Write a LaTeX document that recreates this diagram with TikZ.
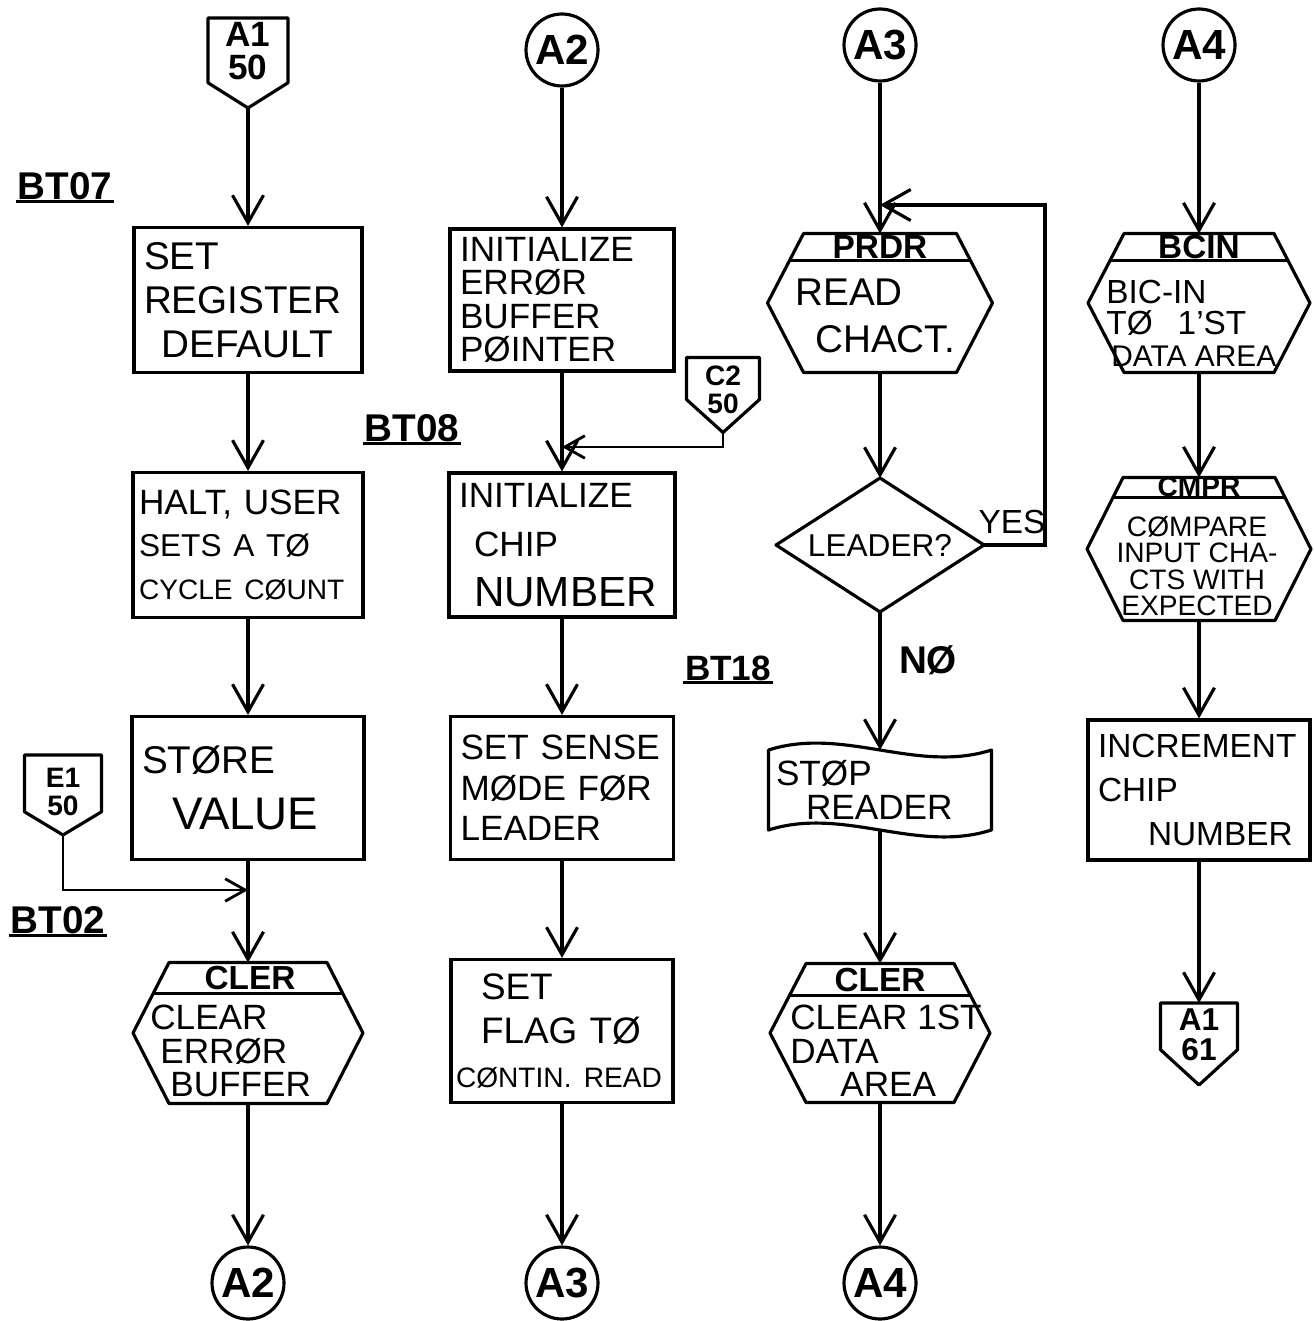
\documentclass[tikz,border=0pt]{standalone}
\usepackage{fontspec}
\setmainfont{Liberation Sans}
\usetikzlibrary{arrows.meta,calc}
\tikzset{
  outline/.style={line width=1.8pt, line join=round},
  ulbar/.style={line width=1.8pt},
  flow/.style={line width=1.8pt, -{Straight Barb[length=0.55cm,width=0.62cm]}},
  flowsmall/.style={line width=1.6pt, -{Straight Barb[length=0.4cm,width=0.45cm]}},
  procbox/.style={draw, line width=1.8pt, inner xsep=0.2cm, inner ysep=0pt, align=left, font=\fontsize{22}{25}\selectfont},
  ghost/.style={inner sep=0pt, outer sep=0pt},
  conn/.style={circle, draw, line width=1.8pt, minimum size=1.44cm, inner sep=0pt, font=\fontsize{24}{24}\selectfont\bfseries},
  hdr/.style={font=\fontsize{19}{19}\selectfont\bfseries, inner sep=0pt},
  bodytxt/.style={align=left, inner sep=0pt, anchor=west},
  lbl/.style={font=\fontsize{22}{22}\selectfont\bfseries, inner sep=1pt},
  offtxt/.style={align=center, inner sep=0pt, font=\fontsize{18}{17}\selectfont\bfseries},
}
\newcommand\myhexagon[2]{%
  \coordinate (#1-tl) at ($(#1.north west)+(36,0)$);
  \coordinate (#1-tr) at ($(#1.north east)+(-36,0)$);
  \coordinate (#1-bl) at ($(#1.south west)+(36,0)$);
  \coordinate (#1-br) at ($(#1.south east)+(-36,0)$);
  \draw[outline] (#1-tl) -- (#1-tr) -- (#1.east) -- (#1-br) -- (#1-bl) -- (#1.west) -- cycle;
  \draw[outline] ($(#1-tl)!#2!(#1.west)$) -- ($(#1-tr)!#2!(#1.east)$);
}
\newcommand\myoffpage[2]{%
  \draw[outline] (#1.north west) -- (#1.north east) -- ($(#1.north east)!#2!(#1.south east)$) -- (#1.south) -- ($(#1.north west)!#2!(#1.south west)$) -- cycle;
}
\newcommand\mytape[1]{%
  \draw[outline] (#1.north west) .. controls ($(#1.north west)+(75,-24)$) and ($(#1.north east)+(-75,24)$) .. (#1.north east) -- (#1.south east) .. controls ($(#1.south east)+(-75,24)$) and ($(#1.south west)+(75,-24)$) .. (#1.south west) -- cycle;
}
\begin{document}
\begin{tikzpicture}[x=0.02cm, y=-0.02cm]
\path[use as bounding box, fill=white] (0,0) rectangle (1314,1321);

% ---------------- column 1
\node[ghost, minimum width=1.6cm, minimum height=1.8cm] (o11) at (248,63) {};
\myoffpage{o11}{0.72}
\node[offtxt, font=\fontsize{20}{19}\selectfont\bfseries] (o11t) at (248,51) {A1\\50};

\node[lbl] (bt07) at (65,186) {BT07};
\draw[ulbar] (bt07.south west) -- (bt07.south east);

\node[procbox, text width=4.16cm, minimum height=2.9cm] (b11) at (248,300) {SET\\REGISTER\\\hspace*{0.35cm}DEFAULT};
\node[procbox, inner xsep=0.12cm, text width=4.36cm, minimum height=2.9cm, font=\fontsize{20}{24}\selectfont] (b12) at (248,545) {HALT, USER\\{\fontsize{18}{24}\selectfont SETS A TØ}\\{\fontsize{16}{24}\selectfont CYCLE CØUNT}};
\node[procbox, text width=4.24cm, minimum height=2.86cm, font=\fontsize{22}{32}\selectfont] (b13) at (248,788) {STØRE\\\hspace*{0.6cm}{\fontsize{26}{32}\selectfont VALUE}};

\node[ghost, minimum width=1.54cm, minimum height=1.6cm] (o12) at (63,795) {};
\myoffpage{o12}{0.71}
\node[offtxt, font=\fontsize{16}{16}\selectfont\bfseries] (o12t) at (63,792) {E1\\50};
\coordinate (j1) at (248,890);
\node[lbl] (bt02) at (58,920) {BT02};
\draw[ulbar] (bt02.south west) -- (bt02.south east);

\node[ghost, minimum width=4.6cm, minimum height=2.82cm] (h14) at (248,1033) {};
\myhexagon{h14}{0.44}
\node[hdr] (h14h) at (250,978) {CLER};
\node[bodytxt, font=\fontsize{20}{19}\selectfont] (h14t) at (150,1051) {CLEAR\\\hspace*{0.2cm}ERRØR\\\hspace*{0.4cm}BUFFER};

\node[conn] (a2b) at (248,1283) {A2};

% ---------------- column 2
\node[conn] (a2t) at (562,50) {A2};
\node[procbox, text width=4.08cm, minimum height=2.84cm, font=\fontsize{20}{19}\selectfont] (b21) at (562,300) {INITIALIZE\\ERRØR\\BUFFER\\PØINTER};
\node[ghost, minimum width=1.46cm, minimum height=1.5cm] (o21) at (723,395) {};
\myoffpage{o21}{0.56}
\node[offtxt, font=\fontsize{16}{16}\selectfont\bfseries] (o21t) at (723,390) {C2\\50};
\coordinate (j2) at (562,447);
\node[lbl] (bt08) at (412,428) {BT08};
\draw[ulbar] (bt08.south west) -- (bt08.south east);

\node[procbox, text width=4.12cm, minimum height=2.88cm, font=\fontsize{20}{28}\selectfont] (b22) at (562,545) {INITIALIZE\\\hspace*{0.3cm}CHIP\\\hspace*{0.3cm}{\fontsize{24}{28}\selectfont NUMBER}};
\node[lbl, font=\fontsize{20}{20}\selectfont\bfseries] (bt18) at (728,668) {BT18};
\draw[ulbar] (bt18.south west) -- (bt18.south east);

\node[procbox, text width=4.06cm, minimum height=2.86cm, font=\fontsize{20}{23}\selectfont] (b23) at (562,788) {SET SENSE\\MØDE FØR\\LEADER};
\node[procbox, inner xsep=0.1cm, text width=4.24cm, minimum height=2.86cm, font=\fontsize{21}{25}\selectfont] (b24) at (562,1031) {\hspace*{0.5cm}SET\\\hspace*{0.5cm}FLAG TØ\\{\fontsize{16}{25}\selectfont CØNTIN. READ}};
\node[conn] (a3b) at (562,1283) {A3};

% ---------------- column 3
\node[conn] (a3t) at (880,45) {A3};
\coordinate (j3) at (880,205);
\coordinate (lp) at (1045,205);
\node[ghost, minimum width=4.5cm, minimum height=2.78cm] (h31) at (880,303) {};
\myhexagon{h31}{0.39}
\node[hdr] (h31h) at (880,247) {PRDR};
\node[bodytxt, font=\fontsize{22}{27}\selectfont] (h31t) at (795,316) {READ\\\hspace*{0.4cm}CHACT.};

\node[ghost, minimum width=4.16cm, minimum height=2.68cm, font=\fontsize{18}{18}\selectfont] (d32) at (880,545) {LEADER?};
\draw[outline] (d32.north) -- (d32.east) -- (d32.south) -- (d32.west) -- cycle;
\node[lbl, font=\fontsize{19}{19}\selectfont] (yes) at (1012,522) {YES};
\node[lbl] (no) at (928,660) {NØ};

\node[ghost, minimum height=1.6cm, text width=4.46cm, align=left, font=\fontsize{20}{19}\selectfont] (t33) at (880,790) {\hspace*{0.15cm}STØP\\\hspace*{0.75cm}READER};
\mytape{t33}

\node[ghost, minimum width=4.4cm, minimum height=2.78cm] (h34) at (880,1033) {};
\myhexagon{h34}{0.46}
\node[hdr] (h34h) at (880,980) {CLER};
\node[bodytxt, font=\fontsize{20}{19}\selectfont] (h34t) at (790,1051) {CLEAR 1ST\\DATA\\\hspace*{1cm}AREA};
\node[conn] (a4b) at (880,1283) {A4};

% ---------------- column 4
\node[conn] (a4t) at (1199,45) {A4};
\node[ghost, minimum width=4.44cm, minimum height=2.78cm] (h41) at (1199,303) {};
\myhexagon{h41}{0.39}
\node[hdr] (h41h) at (1199,247) {BCIN};
\node[bodytxt, font=\fontsize{19}{18}\selectfont] (h41t) at (1106,323) {BIC-IN\\TØ\hspace{0.5cm}1'ST\\\hspace*{0.1cm}{\fontsize{17}{18}\selectfont DATA AREA}};

\node[ghost, minimum width=4.48cm, minimum height=2.86cm] (h42) at (1199,549) {};
\myhexagon{h42}{0.28}
\node[hdr, font=\fontsize{16}{16}\selectfont\bfseries] (h42h) at (1199,487) {CMPR};
\node[align=center, inner sep=0pt, font=\fontsize{16}{15}\selectfont] (h42t) at (1197,566) {CØMPARE\\INPUT CHA-\\CTS WITH\\EXPECTED};

\node[procbox, text width=4.04cm, minimum height=2.8cm, font=\fontsize{19}{25}\selectfont] (b43) at (1199,790) {INCREMENT\\CHIP\\\hspace*{1.0cm}NUMBER};

\node[ghost, minimum width=1.54cm, minimum height=1.64cm] (o44) at (1199,1044) {};
\myoffpage{o44}{0.57}
\node[offtxt] (o44t) at (1199,1035) {A1\\61};

% ---------------- connectors
\draw[flow] (o11.south) -- (b11.north);
\draw[flow] (b11.south) -- (b12.north);
\draw[flow] (b12.south) -- (b13.north);
\draw[flow] (b13.south) -- (h14.north);
\draw[flowsmall] (o12.south) |- (j1);
\draw[flow] (h14.south) -- (a2b.north);

\draw[flow] (a2t.south) -- (b21.north);
\draw[flow] (b21.south) -- (b22.north);
\draw[flowsmall] (o21.south) |- (j2);
\draw[flow] (b22.south) -- (b23.north);
\draw[flow] (b23.south) -- (b24.north);
\draw[flow] (b24.south) -- (a3b.north);

\draw[flow] (a3t.south) -- (h31.north);
\draw[flow] (h31.south) -- (d32.north);
\draw[flow] (d32.east) -| (lp) -- (j3);
\draw[flow] (d32.south) -- (t33.north);
\draw[flow] (t33.south) -- (h34.north);
\draw[flow] (h34.south) -- (a4b.north);

\draw[flow] (a4t.south) -- (h41.north);
\draw[flow] (h41.south) -- (h42.north);
\draw[flow] (h42.south) -- (b43.north);
\draw[flow] (b43.south) -- (o44.north);
\end{tikzpicture}
\end{document}
